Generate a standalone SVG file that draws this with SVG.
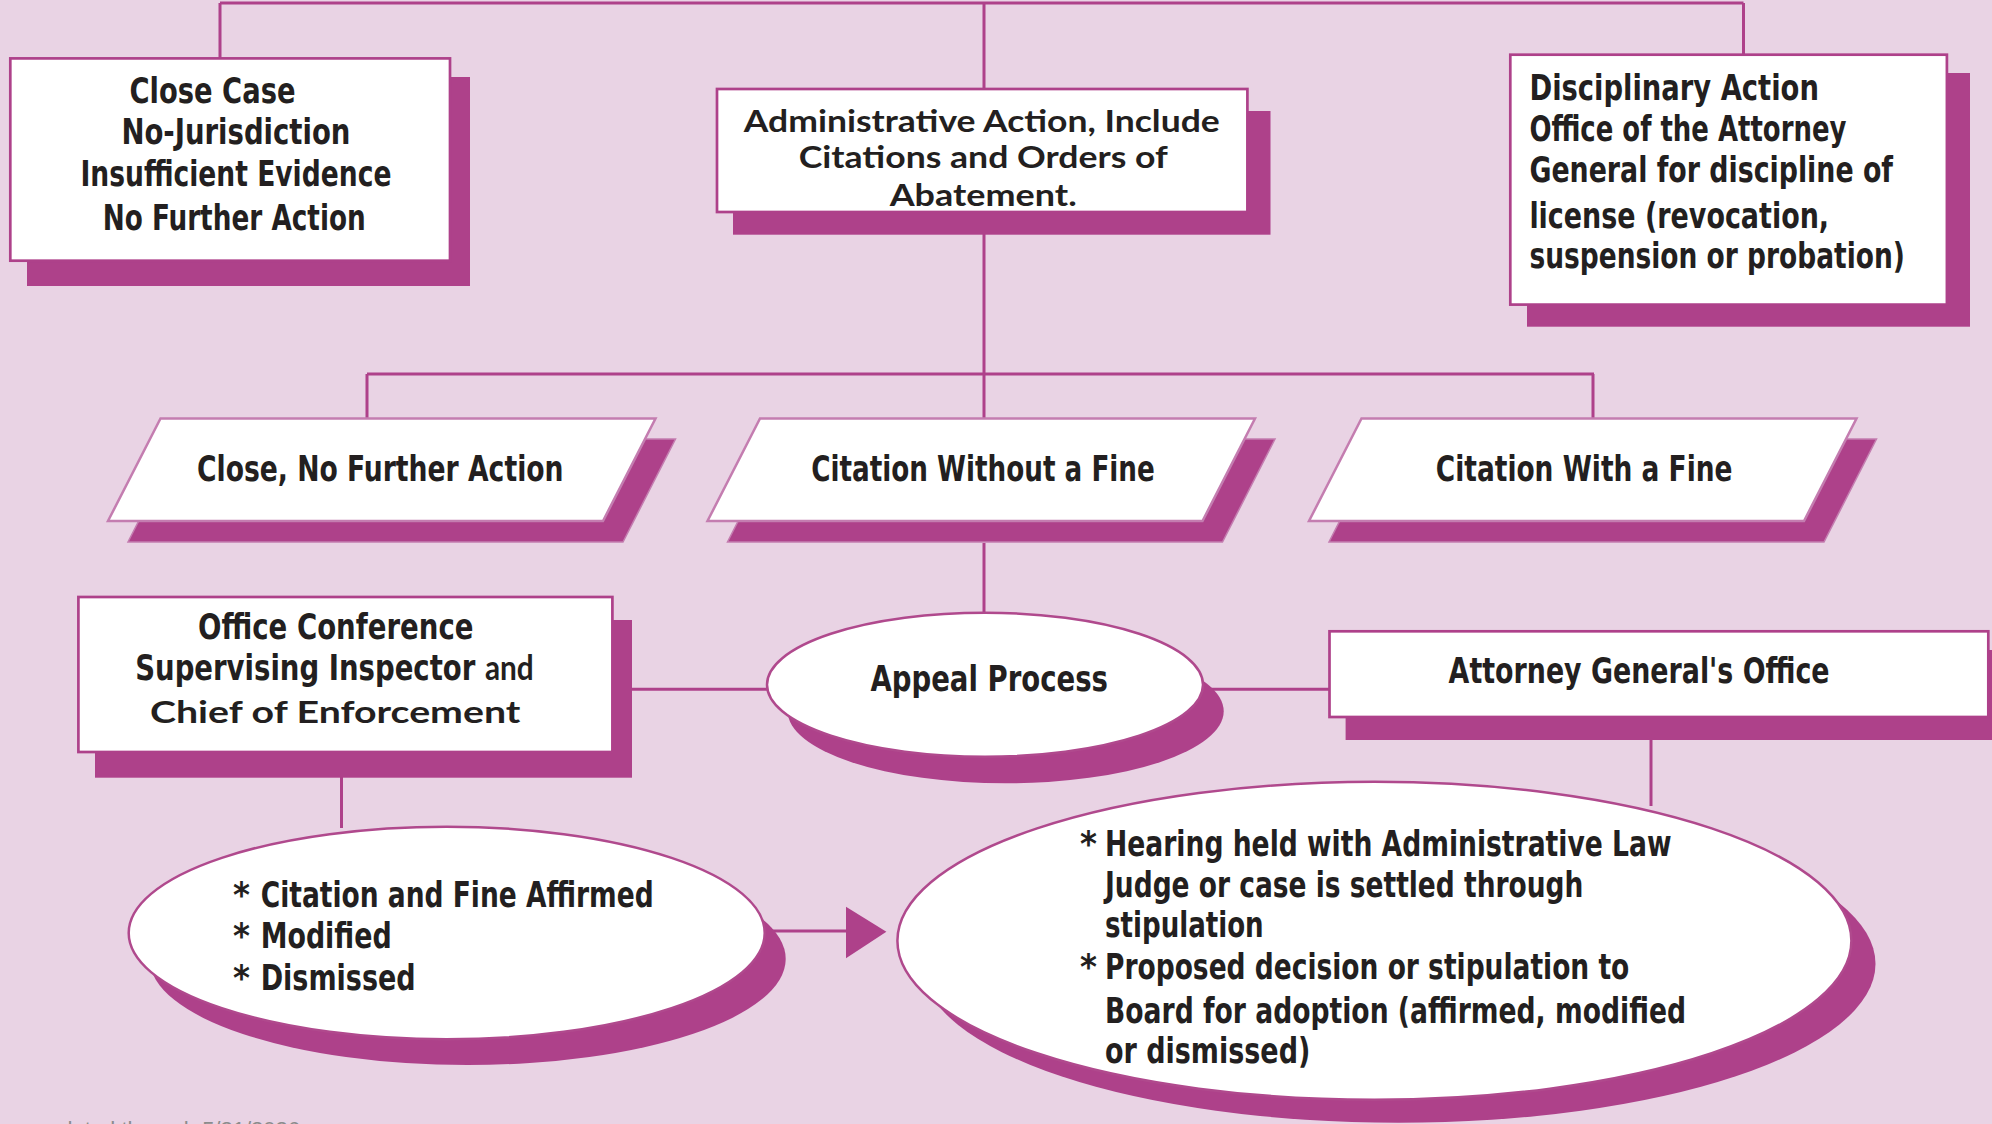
<svg xmlns="http://www.w3.org/2000/svg" width="1992" height="1124" viewBox="0 0 1992 1124">
<style>
.bg{fill:#e9d3e4}
.sh{fill:#ae418a}
.shp{fill:#ae418a;stroke:#c47db0;stroke-width:1.5}
.bx{fill:#fff;stroke:#ae418a;stroke-width:2.7}
.pg{fill:#fff;stroke:#c47db0;stroke-width:2.5}
.el{fill:#fff;stroke:#b0498d;stroke-width:2.5}
.c{fill:none;stroke:#ae418a;stroke-width:3}
.ar{fill:#ae418a}
.t{font-family:"Liberation Sans Narrow","DejaVu Sans Condensed","Roboto Condensed","Liberation Sans",sans-serif;font-weight:bold;font-size:36px;fill:#231f20}
.g{font-family:Lato,"Open Sans","Liberation Sans",sans-serif;font-weight:bold;font-size:30px;fill:#231f20}
.f{font-family:"Liberation Sans",Arial,sans-serif;font-size:22px;fill:#8c8c8c}
</style>
<rect class="bg" x="0" y="0" width="1992" height="1124"/>

<g id="connectors">
  <path class="c" d="M220,3 H1743.5 M220,3 V58 M984,3 V89 M1743.5,3 V55"/>
  <path class="c" d="M984,213 V374 M367,374 H1594 M367,374 V418 M1593,374 V418 M984,374 V418"/>
  <path class="c" d="M984,543 V613"/>
  <path class="c" d="M614,689.3 H768 M1203,689.3 H1329"/>
  <path class="c" d="M341.5,777 V828"/>
  <path class="c" d="M1651,740 V806"/>
  <path class="c" d="M765,931 H848"/>
  <polygon class="ar" points="846,906.7 886.4,931.7 846,958.3"/>
</g>

<g id="close-case">
  <rect class="sh" x="27" y="77" width="443" height="209"/>
  <rect class="bx" x="10.3" y="58.4" width="439.7" height="202.3"/>
  <text class="t" font-size="35" x="129.5" y="102.7" textLength="166" lengthAdjust="spacingAndGlyphs">Close Case</text>
  <text class="t" font-size="35" x="121.4" y="144.3" textLength="229" lengthAdjust="spacingAndGlyphs">No-Jurisdiction</text>
  <text class="t" font-size="35" x="80.4" y="186" textLength="311" lengthAdjust="spacingAndGlyphs">Insufficient Evidence</text>
  <text class="t" font-size="35" x="102.7" y="230" textLength="263" lengthAdjust="spacingAndGlyphs">No Further Action</text>
</g>

<g id="administrative-action">
  <rect class="sh" x="733" y="111" width="537.5" height="123.7"/>
  <rect class="bx" x="717" y="89" width="530.4" height="123"/>
  <text class="g" x="743.8" y="131.7" textLength="476" lengthAdjust="spacingAndGlyphs">Administrative Action, Include</text>
  <text class="g" x="798.7" y="168.3" textLength="369" lengthAdjust="spacingAndGlyphs">Citations and Orders of</text>
  <text class="g" x="889.7" y="206" textLength="187" lengthAdjust="spacingAndGlyphs">Abatement.</text>
</g>

<g id="disciplinary-action">
  <rect class="sh" x="1527" y="73" width="443" height="253.7"/>
  <rect class="bx" x="1510.3" y="54.7" width="436.6" height="249.9"/>
  <text class="t" x="1529.4" y="100" textLength="289.5" lengthAdjust="spacingAndGlyphs">Disciplinary Action</text>
  <text class="t" x="1529.4" y="141" textLength="317" lengthAdjust="spacingAndGlyphs">Office of the Attorney</text>
  <text class="t" x="1529.4" y="182" textLength="363.6" lengthAdjust="spacingAndGlyphs">General for discipline of</text>
  <text class="t" x="1529.4" y="227.7" textLength="299.7" lengthAdjust="spacingAndGlyphs">license (revocation,</text>
  <text class="t" x="1529.4" y="268.3" textLength="375.5" lengthAdjust="spacingAndGlyphs">suspension or probation)</text>
</g>

<g id="close-no-further-action">
  <path class="shp" d="M180.5,439 L675.5,439 L623,542 L128,542 Z"/>
  <path class="pg" d="M160.5,418.5 L655.5,418.5 L603,521 L108,521 Z"/>
  <text class="t" x="197" y="481" textLength="366.5" lengthAdjust="spacingAndGlyphs">Close, No Further Action</text>
</g>

<g id="citation-without-fine">
  <path class="shp" d="M780,439 L1275,439 L1222.5,542 L727.5,542 Z"/>
  <path class="pg" d="M760,418.5 L1255,418.5 L1202.5,521 L707.5,521 Z"/>
  <text class="t" x="811.2" y="481" textLength="343.6" lengthAdjust="spacingAndGlyphs">Citation Without a Fine</text>
</g>

<g id="citation-with-fine">
  <path class="shp" d="M1381.5,439 L1876.5,439 L1824,542 L1329,542 Z"/>
  <path class="pg" d="M1361.5,418.5 L1856.5,418.5 L1804,521 L1309,521 Z"/>
  <text class="t" x="1435.8" y="481" textLength="296.7" lengthAdjust="spacingAndGlyphs">Citation With a Fine</text>
</g>

<g id="office-conference">
  <rect class="sh" x="95" y="620" width="537" height="157.7"/>
  <rect class="bx" x="78.4" y="597" width="534" height="155"/>
  <text class="t" x="198" y="639.3" textLength="275.5" lengthAdjust="spacingAndGlyphs">Office Conference</text>
  <text class="t" x="135.2" y="680" textLength="398.5" lengthAdjust="spacingAndGlyphs">Supervising Inspector <tspan class="g" style="font-size:35px">and</tspan></text>
  <text class="g" x="150" y="722.7" textLength="370.4" lengthAdjust="spacingAndGlyphs">Chief of Enforcement</text>
</g>

<g id="appeal-process">
  <ellipse class="sh" cx="1005.7" cy="711.3" rx="218" ry="72"/>
  <ellipse class="el" cx="985" cy="684.7" rx="218" ry="72"/>
  <text class="t" x="870.4" y="691" textLength="237.6" lengthAdjust="spacingAndGlyphs">Appeal Process</text>
</g>

<g id="attorney-generals-office">
  <rect class="sh" x="1345.6" y="650" width="660" height="90"/>
  <rect class="bx" x="1329.5" y="631.3" width="658.8" height="85.7"/>
  <text class="t" x="1448.6" y="683.3" textLength="381" lengthAdjust="spacingAndGlyphs">Attorney General's Office</text>
</g>

<g id="office-conference-outcomes">
  <ellipse class="sh" cx="467.7" cy="959" rx="318" ry="106"/>
  <ellipse class="el" cx="446.7" cy="933" rx="318" ry="106.3"/>
  <text class="t" font-size="35" x="233" y="906.7">*</text>
  <text class="t" font-size="35" x="260.7" y="906.7" textLength="393" lengthAdjust="spacingAndGlyphs">Citation and Fine Affirmed</text>
  <text class="t" font-size="35" x="233" y="948.3">*</text>
  <text class="t" font-size="35" x="260.7" y="948.3" textLength="131" lengthAdjust="spacingAndGlyphs">Modified</text>
  <text class="t" font-size="35" x="233" y="990">*</text>
  <text class="t" font-size="35" x="260.7" y="990" textLength="155" lengthAdjust="spacingAndGlyphs">Dismissed</text>
</g>

<g id="hearing">
  <ellipse class="sh" cx="1398.5" cy="963.8" rx="477" ry="159"/>
  <ellipse class="el" cx="1374.4" cy="940.8" rx="477" ry="159" stroke-width="3"/>
  <text class="t" x="1080" y="856">*</text>
  <text class="t" x="1105" y="856" textLength="566.5" lengthAdjust="spacingAndGlyphs">Hearing held with Administrative Law</text>
  <text class="t" x="1105" y="896.7" textLength="478.4" lengthAdjust="spacingAndGlyphs">Judge or case is settled through</text>
  <text class="t" x="1105" y="936.7" textLength="158.7" lengthAdjust="spacingAndGlyphs">stipulation</text>
  <text class="t" x="1080" y="979.3">*</text>
  <text class="t" x="1105" y="979.3" textLength="524.3" lengthAdjust="spacingAndGlyphs">Proposed decision or stipulation to</text>
  <text class="t" x="1105" y="1023.3" textLength="581" lengthAdjust="spacingAndGlyphs">Board for adoption (affirmed, modified</text>
  <text class="t" x="1105" y="1063.3" textLength="205.3" lengthAdjust="spacingAndGlyphs">or dismissed)</text>
</g>

<text class="f" x="300" y="1137" text-anchor="end">dated through 5/21/2026</text>
</svg>
